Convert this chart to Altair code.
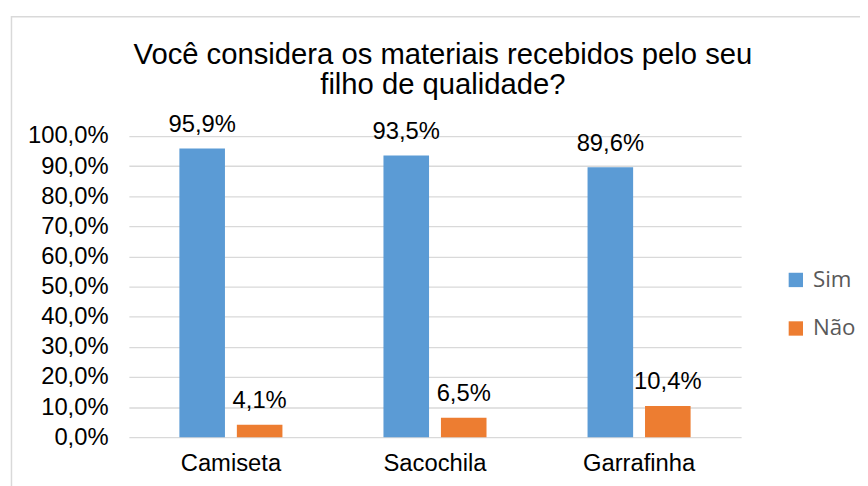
import altair as alt
import pandas as pd

categories = ["Camiseta", "Sacochila", "Garrafinha"]
series = ["Sim", "Não"]
sim_values = [95.9, 93.5, 89.6]
nao_values = [4.1, 6.5, 10.4]
y_ticks = [0, 10, 20, 30, 40, 50, 60, 70, 80, 90, 100]
colors = ["#5B9BD5", "#ED7D31"]
title_text = "Você considera os materiais recebidos pelo seu\nfilho de qualidade?"

rows = []
for i, c in enumerate(categories):
    rows.append({"cat": c, "serie": "Sim", "v": sim_values[i] / 100})
    rows.append({"cat": c, "serie": "Não", "v": nao_values[i] / 100})
df = pd.DataFrame(rows)

FONT = "Liberation Sans"
FS = 24

x_enc = alt.X("cat:N", sort=categories,
              scale=alt.Scale(paddingInner=0, paddingOuter=0),
              axis=alt.Axis(title=None, labelAngle=0, ticks=False, domain=False,
                            labelFont=FONT, labelFontSize=FS, labelColor="#000000",
                            labelPadding=15, grid=False))
xo_enc = alt.XOffset("serie:N", sort=series,
                     scale=alt.Scale(paddingInner=0.207, paddingOuter=0.879))
y_enc = alt.Y("v:Q", scale=alt.Scale(domain=[0, 1]),
              axis=alt.Axis(title=None, values=[t / 100 for t in y_ticks],
                            labelExpr="replace(format(datum.value, '.1%'), '.', ',')",
                            grid=True, gridColor="#d9d9d9", gridWidth=1.3,
                            domain=False, ticks=False, labelPadding=21,
                            labelFont=FONT, labelFontSize=FS, labelColor="#000000"))

base = alt.Chart(df)

bars = base.mark_bar().encode(
    x=x_enc, xOffset=xo_enc, y=y_enc,
    color=alt.Color("serie:N", sort=series,
                    scale=alt.Scale(domain=series, range=colors),
                    legend=alt.Legend(title=None, orient="none", legendX=662, legendY=134,
                                      symbolType="square", symbolSize=210,
                                      symbolStrokeWidth=0, labelFont="Open Sans",
                                      labelFontSize=22.5, labelColor="#595959",
                                      labelOffset=6, rowPadding=26)),
)

labels = base.mark_text(font=FONT, fontSize=FS, color="#000000",
                        baseline="alphabetic", dy=-17).transform_calculate(
    lab="replace(format(datum.v, '.1%'), '.', ',')"
).encode(x=x_enc, xOffset=xo_enc, y=y_enc, text="lab:N")

border = alt.Chart(pd.DataFrame({"a": [0]})).mark_rect(
    fillOpacity=0, stroke="#d9d9d9", strokeWidth=1.5
).encode(x=alt.value(-118.5), x2=alt.value(900), y=alt.value(-120.5), y2=alt.value(600))

title = alt.Chart(pd.DataFrame({"a": [0]})).mark_text(
    font=FONT, fontSize=29.5, color="#000000", lineBreak="\n", lineHeight=31,
    baseline="alphabetic", align="center"
).encode(x=alt.value(317), y=alt.value(-73), text=alt.value(title_text))

chart = alt.layer(border, bars, labels, title).properties(
    width=618, height=304,
    autosize=alt.AutoSizeParams(type="none"),
    padding={"left": 122, "top": 127, "right": 120, "bottom": 47},
    background="white",
).configure_view(stroke=None)

chart.save("out.html", embed_options={"renderer": "svg", "actions": False})
